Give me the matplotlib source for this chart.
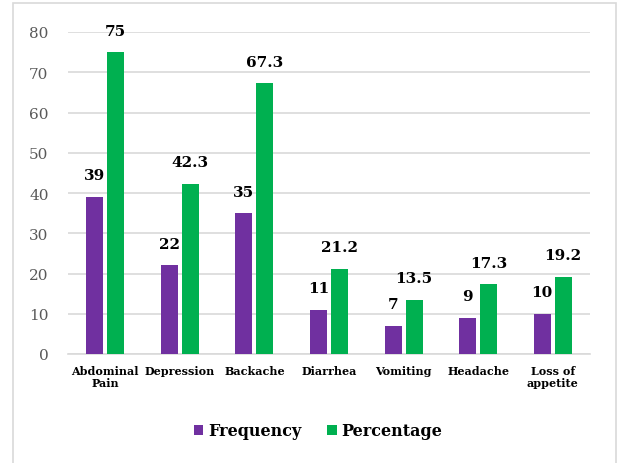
import matplotlib
matplotlib.use("Agg")
import matplotlib.pyplot as plt
import numpy as np
from matplotlib.patches import Rectangle

categories = ["Abdominal\nPain", "Depression", "Backache", "Diarrhea",
              "Vomiting", "Headache", "Loss of\nappetite"]
frequency = [39, 22, 35, 11, 7, 9, 10]
percentage = [75, 42.3, 67.3, 21.2, 13.5, 17.3, 19.2]
freq_labels = ["39", "22", "35", "11", "7", "9", "10"]
perc_labels = ["75", "42.3", "67.3", "21.2", "13.5", "17.3", "19.2"]

plt.rcParams['font.family'] = ['DejaVu Serif']

W, H = 618, 464
fig = plt.figure(figsize=(W / 100, H / 100), dpi=100)
ax = fig.add_axes([68 / W, 1 - 355 / H, (590 - 68) / W, (355 - 33) / H])

x = np.arange(len(categories))
bw = 0.228
off = 0.14
b1 = ax.bar(x - off, frequency, bw, color="#7030A0", label="Frequency", zorder=3)
b2 = ax.bar(x + off, percentage, bw, color="#00B050", label="Percentage", zorder=3)

# value labels above bars
for bars, labs in [(b1, freq_labels), (b2, perc_labels)]:
    for rect, lab in zip(bars, labs):
        ax.text(rect.get_x() + rect.get_width() / 2, rect.get_height() + 5.35, lab,
                ha="center", va="center", fontsize=11, fontweight="bold", color="black")

ax.set_xlim(-0.5, len(categories) - 0.5)
ax.set_ylim(0, 80)
ax.set_yticks(range(0, 81, 10))
ax.yaxis.grid(True, color="#D9D9D9", linewidth=1.2, zorder=0)
ax.set_axisbelow(True)
for s in ["top", "right", "left"]:
    ax.spines[s].set_visible(False)
ax.spines["bottom"].set_color("#D9D9D9")
ax.spines["bottom"].set_linewidth(1.2)
ax.tick_params(axis="both", length=0)
ax.tick_params(axis="y", labelsize=11, colors="#595959", pad=14)
ax.set_xticks(x)
ax.set_xticklabels(categories, fontsize=8, fontweight="bold", linespacing=1.1)
ax.tick_params(axis="x", pad=8)

fig.legend(handles=[b1, b2], loc="center", bbox_to_anchor=(318 / W, 1 - 432 / H),
           ncol=2, frameon=False, prop={"weight": "bold", "size": 11.5},
           handlelength=0.6, handleheight=0.6, handletextpad=0.3, columnspacing=1.6)

fig.patches.append(Rectangle((13 / W, -0.01), (616 - 13) / W, 1 - 4 / H + 0.01,
                             transform=fig.transFigure, fill=False,
                             edgecolor="#D9D9D9", linewidth=1.2))

fig.savefig("out.png", dpi=100)
